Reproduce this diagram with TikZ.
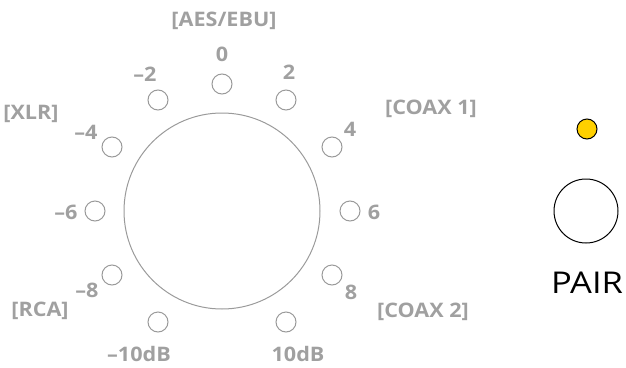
\documentclass[tikz,border=0pt]{standalone}
\usepackage{fontspec}
\setmainfont{Open Sans}
\newfontfamily\lblfont{Open Sans}[FakeStretch=1.08]
\newfontfamily\pairfont{Open Sans}[FakeStretch=1.15]
\begin{document}
\begin{tikzpicture}[x=1pt,y=-1pt,
  led/.style={circle,draw=ledgray,line width=1pt,minimum size=20pt,inner sep=0pt},
  lbl/.style={text=txtgray,font=\lblfont\fontsize{20}{20}\selectfont\bfseries,inner sep=0pt},
  ]
\definecolor{ledgray}{HTML}{9A9A9A}
\definecolor{txtgray}{HTML}{A0A0A0}
\definecolor{ledyellow}{HTML}{FFD000}
\useasboundingbox (0,0) rectangle (626,367);
\node[circle,draw=ledgray,line width=1pt,minimum size=196pt,inner sep=0pt] (knob) at (222,211) {};
\node[led] (l0) at (222,84) {};
\node[led] (lm2) at (158,100) {};
\node[led] (lp2) at (286,100) {};
\node[led] (lm4) at (112,147) {};
\node[led] (lp4) at (332,147) {};
\node[led] (lm6) at (95,211) {};
\node[led] (lp6) at (350,211) {};
\node[led] (lm8) at (112,275) {};
\node[led] (lp8) at (332,275) {};
\node[led] (lm10) at (158,322) {};
\node[led] (lp10) at (286,322) {};
\node[lbl] (taes) at (224,21) {[AES/EBU]};
\node[lbl] (t0) at (222,54) {0};
\node[lbl] (tm2) at (145,74) {–2};
\node[lbl] (tp2) at (289,72) {2};
\node[lbl] (txlr) at (31,114) {[XLR]};
\node[lbl] (tm4) at (86,132) {–4};
\node[lbl] (tp4) at (350,129) {4};
\node[lbl] (tc1) at (431,109) {[COAX 1]};
\node[lbl] (tm6) at (66,212) {–6};
\node[lbl] (tp6) at (374,212) {6};
\node[lbl] (tm8) at (87,290) {–8};
\node[lbl] (tp8) at (351,292) {8};
\node[lbl] (trca) at (40,311) {[RCA]};
\node[lbl] (tc2) at (423,312) {[COAX 2]};
\node[lbl] (tm10) at (139,354) {–10dB};
\node[lbl] (tp10) at (298,354) {10dB};
\node[circle,draw=black,fill=ledyellow,line width=1pt,minimum size=20pt,inner sep=0pt] (yled) at (587,129) {};
\node[circle,draw=black,line width=1pt,minimum size=64pt,inner sep=0pt] (pair) at (586,211) {};
\node[inner sep=0pt,font=\pairfont\fontsize{30}{30}\selectfont] (tpair) at (587,283) {PAIR};
\end{tikzpicture}
\end{document}
